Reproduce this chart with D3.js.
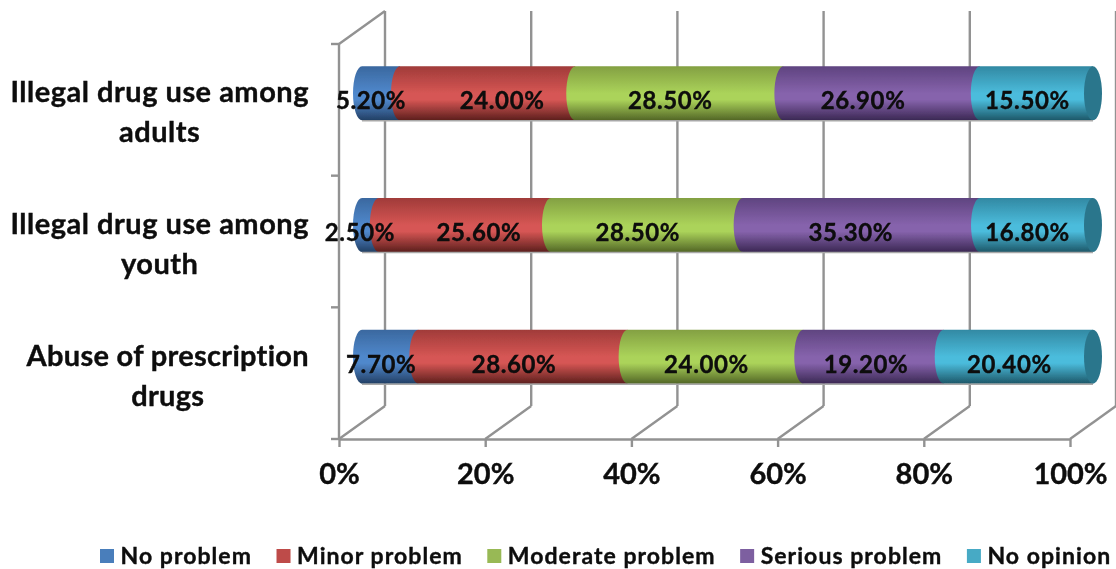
<!DOCTYPE html>
<html><head><meta charset="utf-8">
<script src="https://cdn.jsdelivr.net/npm/d3@7"></script>
<style>html,body{margin:0;padding:0;background:#fff;overflow:hidden}svg{display:block}text{font-family:Lato,sans-serif;font-weight:700;fill:#0a0a0a;stroke:#0a0a0a;stroke-width:0.35px}</style>
</head><body><svg id="c" width="1116" height="569"></svg>
<script>
const categories = ["Illegal drug use among adults","Illegal drug use among youth","Abuse of prescription drugs"];
const categoryLines = [["Illegal drug use among","adults"],["Illegal drug use among","youth"],["Abuse of prescription","drugs"]];
const seriesNames = ["No problem","Minor problem","Moderate problem","Serious problem","No opinion"];
const noProblem = [5.2,2.5,7.7];
const minorProblem = [24.0,25.6,28.6];
const moderateProblem = [28.5,28.5,24.0];
const seriousProblem = [26.9,35.3,19.2];
const noOpinion = [15.5,16.8,20.4];
const xTicks = [0,0.2,0.4,0.6,0.8,1];
const seriesValues = [noProblem,minorProblem,moderateProblem,seriousProblem,noOpinion];

// layout and style
const palette = [
 {key:"#4a7ebb",top:"#3a689f",mid:"#5088cc",bot:"#223f64"},
 {key:"#be4b48",top:"#a03b39",mid:"#d65654",bot:"#5c1f1d"},
 {key:"#98b954",top:"#83a042",mid:"#abd35a",bot:"#526626"},
 {key:"#7d5fa0",top:"#5f4480",mid:"#8663ac",bot:"#3b2853"},
 {key:"#46aac5",top:"#3289a3",mid:"#4bbcdc",bot:"#1d5768"}];
const capColor = "#2c768c";
const depthX = 46, depthY = 33, rx = 9, barH = 54, labelShift = -9;
const labelNudge = [[-1,23.5,0,-9.5,0],[-1.5,23,0,-1.5,0],[0,0,0,1.5,0]];
const grid = "#929292";

const svg = d3.select("#c");
const defs = svg.append("defs");
defs.append("filter").attr("id","soft").attr("x","-5%").attr("y","-5%").attr("width","110%").attr("height","110%")
  .append("feGaussianBlur").attr("stdDeviation",0.55);
palette.forEach((p,i)=>{
  const g = defs.append("linearGradient").attr("id","g"+i).attr("x1",0).attr("x2",0).attr("y1",0).attr("y2",1);
  [[0,p.top],[0.5,p.mid],[0.62,p.mid],[1,p.bot]].forEach(s=>g.append("stop").attr("offset",s[0]).attr("stop-color",s[1]));
});
const root = svg.append("g").attr("filter","url(#soft)");

const x = d3.scaleLinear().domain([0,1]).range([339,1070]);
const y = d3.scaleBand().domain(categories).range([44,439]);
const rows = categories.map((c,i)=>{const r={cat:c};seriesNames.forEach((s,k)=>r[s]=seriesValues[k][i]);return r;});
const stack = d3.stack().keys(seriesNames).offset(d3.stackOffsetExpand)(rows);

// walls and grid
const gridG = root.append("g").attr("stroke",grid).attr("stroke-width",2.4).attr("fill","none");
xTicks.forEach(t=>{
  const fx=x(t), bx=fx+depthX, by=y.range()[1]-depthY;
  gridG.append("line").attr("x1",bx).attr("x2",bx).attr("y1",y.range()[0]-depthY).attr("y2",by);
  gridG.append("line").attr("x1",fx).attr("x2",bx).attr("y1",y.range()[1]).attr("y2",by);
});
gridG.append("line").attr("x1",x(0)).attr("x2",x(0)+depthX).attr("y1",y.range()[0]).attr("y2",y.range()[0]-depthY);
gridG.append("line").attr("x1",x(0)).attr("x2",x(0)).attr("y1",y.range()[0]).attr("y2",y.range()[1]);
[...categories.map(c=>y(c)),y.range()[1]].forEach(v=>gridG.append("line").attr("x1",x(0)-8).attr("x2",x(0)).attr("y1",v).attr("y2",v));

// x axis
const ax = root.append("g").attr("transform",`translate(0,${y.range()[1]})`)
  .call(d3.axisBottom(x).tickValues(xTicks).tickFormat(d3.format(".0%")).tickSize(8).tickPadding(16).tickSizeOuter(0));
ax.select(".domain").attr("stroke",grid).attr("stroke-width",2.4);
ax.selectAll("line").attr("stroke",grid).attr("stroke-width",2.4);
ax.selectAll("text").style("font-size","29px").style("font-family","Lato").style("font-weight","700");

// cylinders
const bx = v => x(v)+depthX/2;
categories.forEach((c,ci)=>{
  const cy = y(c)+y.bandwidth()/2-depthY/2, t=cy-barH/2, b=cy+barH/2;
  stack.forEach((s,k)=>{
    const d=s[ci], x0=bx(d[0]), x1=bx(d[1]);
    root.append("path").attr("fill",`url(#g${k})`)
      .attr("d",`M${x0},${t}A${rx},${barH/2} 0 0 0 ${x0},${b}L${x1},${b}L${x1},${t}Z`);
  });
  root.append("ellipse").attr("cx",bx(1)).attr("cy",cy).attr("rx",rx).attr("ry",barH/2).attr("fill",capColor);
  root.append("path").attr("fill","none").attr("stroke","#a8a8a8").attr("stroke-width",1.5)
    .attr("d",`M${bx(0)},${b+0.5}L${bx(1)},${b+0.5}`);
});
// labels
categories.forEach((c,ci)=>{
  const cy = y(c)+y.bandwidth()/2-depthY/2;
  stack.forEach((s,k)=>{
    const d=s[ci];
    root.append("text").attr("x",bx((d[0]+d[1])/2)+labelShift+labelNudge[ci][k]).attr("y",cy+16)
      .attr("text-anchor","middle").style("font-size","24px").style("letter-spacing","0.6px").text(seriesValues[k][ci].toFixed(2)+"%");
  });
});
// category labels
categories.forEach((c,ci)=>{
  const cy=y(c)+y.bandwidth()/2;
  const t=root.append("text").style("font-size","29px").style("letter-spacing",ci===2?"0.3px":"0.5px");
  const a=t.append("tspan").attr("x",309).attr("y",cy-7.5).attr("text-anchor","end").text(categoryLines[ci][0]);
  const w=a.node().getComputedTextLength();
  t.append("tspan").attr("x",309-w/2).attr("y",cy+32.5).attr("text-anchor","middle").text(categoryLines[ci][1]);
});
// legend
let lx=100;
const legG=root.append("g");
seriesNames.forEach((s,k)=>{
  legG.append("rect").attr("x",lx).attr("y",549).attr("width",14).attr("height",14).attr("fill",palette[k].key);
  const t=legG.append("text").attr("x",lx+20.5).attr("y",564).style("font-size","23px").style("letter-spacing","1.05px").text(s);
  lx+=20.5+t.node().getComputedTextLength()+24.5;
});
</script></body></html>
